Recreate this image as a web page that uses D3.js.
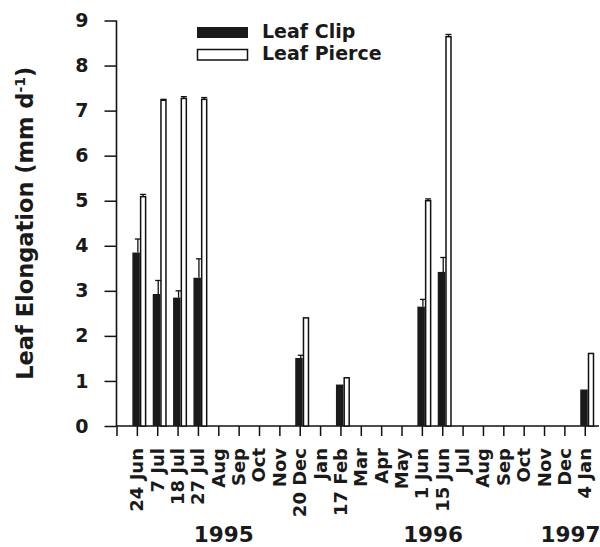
<!DOCTYPE html>
<html>
<head>
<meta charset="utf-8">
<script src="https://cdn.jsdelivr.net/npm/d3@7"></script>
<style>
  html, body { margin: 0; padding: 0; background: #fff; }
  svg { display: block; }
  text { font-family: "DejaVu Sans", sans-serif; font-weight: bold; fill: #1a1a1a; }
</style>
</head>
<body>
<svg id="chart" width="600" height="547"></svg>
<script>
// ---- data ----
const labels = ["24 Jun","7 Jul","18 Jul","27 Jul","Aug","Sep","Oct","Nov","20 Dec","Jan","17 Feb","Mar","Apr","May","1 Jun","15 Jun","Jul","Aug","Sep","Oct","Nov","Dec","4 Jan"];
const leafClip =    [3.85, 2.93, 2.85, 3.29, null, null, null, null, 1.51, null, 0.92, null, null, null, 2.65, 3.42, null, null, null, null, null, null, 0.81];
const leafClipErr = [0.30, 0.30, 0.15, 0.42, null, null, null, null, 0.06, null, 0.00, null, null, null, 0.16, 0.32, null, null, null, null, null, null, 0.00];
const leafPierce =    [5.09, 7.23, 7.27, 7.25, null, null, null, null, 2.40, null, 1.07, null, null, null, 5.00, 8.64, null, null, null, null, null, null, 1.61];
const leafPierceErr = [0.05, 0.02, 0.04, 0.04, null, null, null, null, 0.00, null, 0.00, null, null, null, 0.04, 0.05, null, null, null, null, null, null, 0.00];
const yTicks = [0,1,2,3,4,5,6,7,8,9];
const years = ["1995","1996","1997"];
const yearPos = [5.27, 15.55, 22.3];
const seriesNames = ["Leaf Clip","Leaf Pierce"];

// ---- scales ----
const svg = d3.select("#chart");
const x = d3.scaleLinear().domain([0, 23.7]).range([116.5, 599]);
const y = d3.scaleLinear().domain([0, 9]).range([426, 20.5]);

const idx = labels.map((d, i) => i + 1);

// ---- axes ----
const yAxis = d3.axisLeft(y).tickValues(yTicks).tickSize(12).tickPadding(16).tickFormat(d3.format("d"));
const gy = svg.append("g").attr("transform", `translate(${x(0)},0)`).call(yAxis);
gy.select(".domain").attr("stroke", "#111").attr("stroke-width", 1.6).attr("d", `M0,${y(0)}V${y(9)}`);
gy.selectAll(".tick line").attr("stroke", "#111").attr("stroke-width", 1.5);
gy.selectAll(".tick text").style("font-size", "19px").style("font-family", "DejaVu Sans").style("font-weight", "bold").attr("fill", "#1a1a1a");

const xAxis = d3.axisBottom(x).tickValues(d3.range(0, labels.length + 1)).tickSize(10).tickFormat("");
const gx = svg.append("g").attr("transform", `translate(0,${y(0)})`).call(xAxis);
gx.select(".domain").attr("stroke", "#111").attr("stroke-width", 1.6).attr("d", `M${x(0)},0H${x(23.7)}`);
gx.selectAll(".tick line").attr("stroke", "#111").attr("stroke-width", 1.5);

// x labels (rotated)
svg.append("g").selectAll("text").data(labels).join("text")
  .attr("transform", (d, i) => `translate(${x(i + 1)},${y(0) + 22}) rotate(-90)`)
  .attr("text-anchor", "end")
  .attr("dy", "0.36em")
  .style("font-size", "18px")
  .text(d => d);

// year labels
svg.append("g").selectAll("text").data(years).join("text")
  .attr("x", (d, i) => x(yearPos[i]))
  .attr("y", 542)
  .attr("text-anchor", "middle")
  .style("font-size", "21.5px")
  .text(d => d);

// ---- bars ----
const clipData = idx.map((p, i) => ({p, v: leafClip[i], e: leafClipErr[i]})).filter(d => d.v != null);
const pierceData = idx.map((p, i) => ({p, v: leafPierce[i], e: leafPierceErr[i]})).filter(d => d.v != null);

// pierce (white, outlined)
svg.append("g").selectAll("rect").data(pierceData).join("rect")
  .attr("x", d => x(d.p) + 3.75)
  .attr("width", 5)
  .attr("y", d => y(d.v))
  .attr("height", d => y(0) - y(d.v))
  .attr("fill", "#fff")
  .attr("stroke", "#111")
  .attr("stroke-width", 1.5);

// clip (black)
svg.append("g").selectAll("rect").data(clipData).join("rect")
  .attr("x", d => x(d.p) - 4.5)
  .attr("width", 7.5)
  .attr("y", d => y(d.v))
  .attr("height", d => y(0) - y(d.v))
  .attr("fill", "#1a1a1a");

// error bars
function errBars(data, cx, half) {
  const g = svg.append("g").attr("stroke", "#111").attr("stroke-width", 1.3);
  const dd = data.filter(d => d.e > 0);
  g.selectAll("line.v").data(dd).join("line").attr("class", "v")
    .attr("x1", d => x(d.p) + cx).attr("x2", d => x(d.p) + cx)
    .attr("y1", d => y(d.v)).attr("y2", d => y(d.v + d.e));
  g.selectAll("line.c").data(dd).join("line").attr("class", "c")
    .attr("x1", d => x(d.p) + cx - half).attr("x2", d => x(d.p) + cx + half)
    .attr("y1", d => y(d.v + d.e)).attr("y2", d => y(d.v + d.e));
}
errBars(clipData, 1.0, 3);
errBars(pierceData, 6.25, 3);

// ---- y title ----
const yt = svg.append("text")
  .attr("transform", `translate(33,${(y(0) + y(9)) / 2}) rotate(-90)`)
  .attr("text-anchor", "middle")
  .style("font-size", "22.5px");
yt.append("tspan").text("Leaf Elongation (mm d");
yt.append("tspan").attr("baseline-shift", "super").style("font-size", "14px").text("-1");
yt.append("tspan").text(")");

// ---- legend ----
const leg = svg.append("g");
leg.append("rect").attr("x", 197).attr("y", 27).attr("width", 51).attr("height", 11).attr("fill", "#1a1a1a");
leg.append("rect").attr("x", 197.5).attr("y", 49.5).attr("width", 50).attr("height", 10.5).attr("fill", "#fff").attr("stroke", "#111").attr("stroke-width", 1.5);
leg.selectAll("text").data(seriesNames).join("text")
  .attr("x", 262)
  .attr("y", (d, i) => 37.5 + i * 22.5)
  .style("font-size", "19px")
  .text(d => d);
</script>
</body>
</html>
